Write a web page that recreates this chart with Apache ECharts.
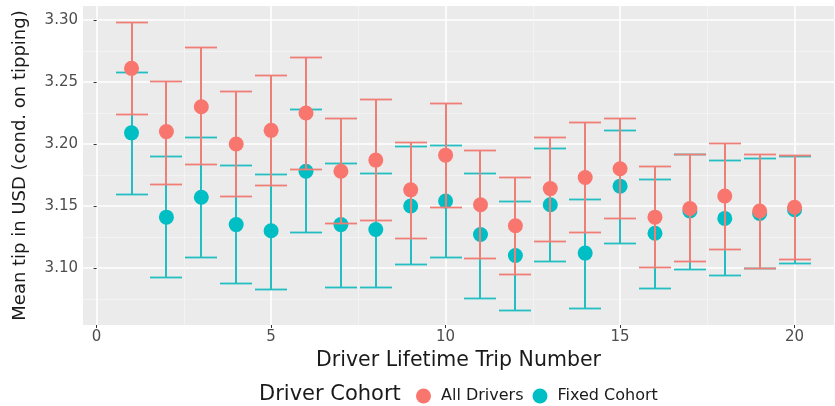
<!DOCTYPE html>
<html>
<head>
<meta charset="utf-8">
<script src="https://cdn.jsdelivr.net/npm/echarts@6/dist/echarts.min.js"></script>
<style>
  html, body { margin: 0; padding: 0; background: #ffffff; }
  #chart { width: 835px; height: 406px; }
</style>
</head>
<body>
<div id="chart"></div>
<script>
// ---- Data ----
const trips = [1, 2, 3, 4, 5, 6, 7, 8, 9, 10, 11, 12, 13, 14, 15, 16, 17, 18, 19, 20];

const allMean = [3.261, 3.210, 3.230, 3.200, 3.211, 3.225, 3.178, 3.187, 3.163, 3.191, 3.151, 3.134, 3.164, 3.173, 3.180, 3.141, 3.148, 3.158, 3.146, 3.149];
const allLow  = [3.224, 3.168, 3.184, 3.158, 3.167, 3.180, 3.136, 3.139, 3.124, 3.149, 3.108, 3.095, 3.122, 3.129, 3.140, 3.101, 3.106, 3.115, 3.100, 3.107];
const allHigh = [3.298, 3.251, 3.278, 3.243, 3.256, 3.270, 3.221, 3.236, 3.202, 3.233, 3.195, 3.173, 3.206, 3.218, 3.221, 3.182, 3.192, 3.201, 3.192, 3.191];

const fixMean = [3.209, 3.141, 3.157, 3.135, 3.130, 3.178, 3.135, 3.131, 3.150, 3.154, 3.127, 3.110, 3.151, 3.112, 3.166, 3.128, 3.146, 3.140, 3.144, 3.147];
const fixLow  = [3.160, 3.093, 3.109, 3.088, 3.083, 3.129, 3.085, 3.085, 3.103, 3.109, 3.076, 3.066, 3.106, 3.068, 3.120, 3.084, 3.099, 3.094, 3.100, 3.104];
const fixHigh = [3.258, 3.190, 3.206, 3.183, 3.176, 3.228, 3.185, 3.177, 3.198, 3.199, 3.177, 3.154, 3.197, 3.156, 3.211, 3.172, 3.192, 3.187, 3.189, 3.190];

const xTicks = [0, 5, 10, 15, 20];
const xMinorTicks = [2.5, 7.5, 12.5, 17.5];
const yTicks = [3.10, 3.15, 3.20, 3.25, 3.30];
const yMinorTicks = [3.075, 3.125, 3.175, 3.225, 3.275];

const seriesNames = ['All Drivers', 'Fixed Cohort'];
const legendTitle = 'Driver Cohort';
const xTitle = 'Driver Lifetime Trip Number';
const yTitle = 'Mean tip in USD (cond. on tipping)';

// ---- Styling ----
const RED = '#F8766D';
const RED_LINE = '#EE7E76';
const TEAL = '#00BFC4';
const TEAL_LINE = '#22BEC2';
const FONT = 'DejaVu Sans';
const CAP = 0.9; // error-bar cap width in data units
const X_MIN = -0.39, X_MAX = 21.13;
const Y_MIN = 3.054, Y_MAX = 3.3113;

function errRender(color) {
  return function (params, api) {
    const x = api.value(0), lo = api.value(1), hi = api.value(2);
    const pLo = api.coord([x, lo]);
    const pHi = api.coord([x, hi]);
    const cx = Math.round(pLo[0]);
    const yLo = Math.round(pLo[1]) + 0.5;
    const yHi = Math.round(pHi[1]) + 0.5;
    const half = Math.round(api.size([CAP, 0])[0] / 2);
    const st = { stroke: color, lineWidth: 2 };
    const stCap = { stroke: color, lineWidth: 1.8 };
    return {
      type: 'group',
      children: [
        { type: 'line', shape: { x1: cx, y1: yLo, x2: cx, y2: yHi }, style: st },
        { type: 'line', shape: { x1: cx - half, y1: yLo, x2: cx + half, y2: yLo }, style: stCap },
        { type: 'line', shape: { x1: cx - half, y1: yHi, x2: cx + half, y2: yHi }, style: stCap }
      ]
    };
  };
}

const chart = echarts.init(document.getElementById('chart'), null, { renderer: 'canvas' });

const majorLine = { show: true, lineStyle: { color: '#FFFFFF', width: 1.6 } };
const minorLine = { show: true, lineStyle: { color: '#F5F5F5', width: 0.8 } };

const option = {
  animation: false,
  backgroundColor: '#FFFFFF',
  textStyle: { fontFamily: FONT },
  title: {
    text: legendTitle,
    left: 259,
    top: 384,
    padding: 0,
    textStyle: { fontFamily: FONT, fontSize: 21, fontWeight: 'normal', color: '#1A1A1A' }
  },
  legend: {
    data: seriesNames,
    left: 416,
    top: 388,
    padding: 0,
    itemWidth: 15,
    itemHeight: 15,
    itemGap: 9,
    icon: 'circle',
    textStyle: { fontFamily: FONT, fontSize: 16, color: '#1A1A1A', padding: [0, 0, 0, 5] }
  },
  grid: {
    left: 83, right: 1, top: 6, bottom: 81,
    show: true, backgroundColor: '#EBEBEB', borderWidth: 0
  },
  xAxis: [
    {
      type: 'value', min: X_MIN, max: X_MAX,
      name: xTitle, nameLocation: 'middle', nameGap: 21,
      nameTextStyle: { fontFamily: FONT, fontSize: 20.5, color: '#1A1A1A' },
      axisLine: { show: false },
      axisTick: { show: true, customValues: xTicks, length: 3, lineStyle: { color: '#333333' } },
      axisLabel: { customValues: xTicks, color: '#4D4D4D', fontSize: 15, margin: 5, fontFamily: FONT },
      splitLine: majorLine
    },
    {
      type: 'value', min: X_MIN, max: X_MAX,
      axisLine: { show: false },
      axisTick: { show: false, customValues: xMinorTicks },
      axisLabel: { show: false, customValues: xMinorTicks },
      splitLine: minorLine
    }
  ],
  yAxis: [
    {
      type: 'value', min: Y_MIN, max: Y_MAX,
      name: yTitle, nameLocation: 'middle', nameGap: 54, nameRotate: 90,
      nameTextStyle: { fontFamily: FONT, fontSize: 18, color: '#1A1A1A' },
      axisLine: { show: false },
      axisTick: { show: true, customValues: yTicks, length: 3, lineStyle: { color: '#333333' } },
      axisLabel: {
        customValues: yTicks, color: '#4D4D4D', fontSize: 15, margin: 5, fontFamily: FONT,
        formatter: function (v) { return Number(v).toFixed(2); }
      },
      splitLine: majorLine
    },
    {
      type: 'value', min: Y_MIN, max: Y_MAX, position: 'left',
      axisLine: { show: false },
      axisTick: { show: false, customValues: yMinorTicks },
      axisLabel: { show: false, customValues: yMinorTicks },
      splitLine: minorLine
    }
  ],
  series: [
    {
      name: 'Fixed Cohort CI', type: 'custom', z: 2,
      xAxisIndex: 0, yAxisIndex: 0,
      renderItem: errRender(TEAL_LINE),
      encode: { x: 0, y: [1, 2] },
      data: trips.map((t, i) => [t, fixLow[i], fixHigh[i]])
    },
    {
      name: seriesNames[1], type: 'scatter', z: 3,
      symbol: 'circle', symbolSize: 15,
      itemStyle: { color: TEAL, opacity: 1 },
      data: trips.map((t, i) => [t, fixMean[i]])
    },
    {
      name: 'All Drivers CI', type: 'custom', z: 4,
      renderItem: errRender(RED_LINE),
      encode: { x: 0, y: [1, 2] },
      data: trips.map((t, i) => [t, allLow[i], allHigh[i]])
    },
    {
      name: seriesNames[0], type: 'scatter', z: 5,
      symbol: 'circle', symbolSize: 15,
      itemStyle: { color: RED, opacity: 1 },
      data: trips.map((t, i) => [t, allMean[i]])
    }
  ]
};

chart.setOption(option);
</script>
</body>
</html>
